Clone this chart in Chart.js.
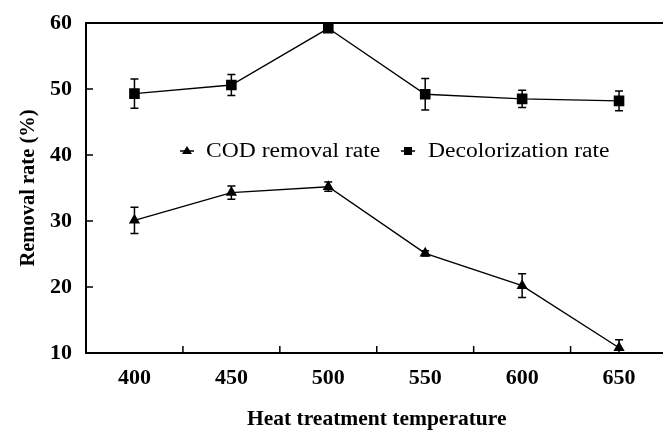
<!DOCTYPE html>
<html>
<head>
<meta charset="utf-8">
<script src="https://cdn.jsdelivr.net/npm/chart.js@4/dist/chart.umd.min.js"></script>
<style>
html,body{margin:0;padding:0;background:#fff;overflow:hidden;width:663px;height:430px;}
#wrap{width:663px;height:430px;overflow:hidden;}
canvas{display:block;}
</style>
</head>
<body>
<div id="wrap"><canvas id="c" width="675" height="430"></canvas></div>
<script>
const categories = ['400', '450', '500', '550', '600', '650'];
const codRemoval = [30.1, 34.3, 35.2, 25.1, 20.2, 10.8];
const codError = [2.0, 1.0, 0.7, 0.4, 1.8, 1.2];
const decolorization = [49.3, 50.6, 59.2, 49.2, 48.5, 48.2];
const decolorError = [2.2, 1.6, 0.5, 2.4, 1.3, 1.5];
const yTicks = [10, 20, 30, 40, 50, 60];
const legendLabels = ['COD removal rate', 'Decolorization rate'];
const xTitle = 'Heat treatment temperature';
const yTitle = 'Removal rate (%)';

const SERIF = '"Liberation Serif", "Times New Roman", serif';

const errorBars = {
  id: 'errorBars',
  afterDatasetsDraw(chart) {
    const ctx = chart.ctx, y = chart.scales.y, x = chart.scales.x, a = chart.chartArea;
    const sets = [[codRemoval, codError], [decolorization, decolorError]];
    ctx.save();
    ctx.beginPath();
    ctx.rect(a.left, a.top - 1, a.right - a.left, a.bottom - a.top + 2);
    ctx.clip();
    ctx.strokeStyle = '#000';
    ctx.lineWidth = 1.5;
    sets.forEach(([vals, errs]) => {
      vals.forEach((v, i) => {
        const px = x.getPixelForValue(i);
        const t = y.getPixelForValue(v + errs[i]);
        const b = y.getPixelForValue(v - errs[i]);
        ctx.beginPath();
        ctx.moveTo(px, t); ctx.lineTo(px, b);
        ctx.moveTo(px - 4, t); ctx.lineTo(px + 4, t);
        ctx.moveTo(px - 4, b); ctx.lineTo(px + 4, b);
        ctx.stroke();
      });
    });
    ctx.restore();
  }
};

const frame = {
  id: 'frame',
  afterDraw(chart) {
    const ctx = chart.ctx, a = chart.chartArea, x = chart.scales.x, y = chart.scales.y;
    ctx.save();
    ctx.strokeStyle = '#000';
    ctx.lineWidth = 2;
    ctx.beginPath();
    ctx.moveTo(a.right + 5, a.top); ctx.lineTo(a.left, a.top);
    ctx.lineTo(a.left, a.bottom); ctx.lineTo(a.right + 5, a.bottom);
    ctx.stroke();
    ctx.lineWidth = 1.5;
    ctx.beginPath();
    for (let i = 0; i < categories.length - 1; i++) {
      const px = (x.getPixelForValue(i) + x.getPixelForValue(i + 1)) / 2;
      ctx.moveTo(px, a.bottom); ctx.lineTo(px, a.bottom - 7);
    }
    yTicks.slice(1, -1).forEach(v => {
      const py = y.getPixelForValue(v);
      ctx.moveTo(a.left, py); ctx.lineTo(a.left + 7, py);
    });
    ctx.stroke();
    // legend
    ctx.fillStyle = '#000';
    ctx.font = '20px ' + SERIF;
    ctx.textBaseline = 'middle';
    const ly = 151;
    const items = [
      {mx: 187, tx: 206, style: 'triangle'},
      {mx: 408, tx: 428, style: 'rect'}
    ];
    items.forEach((it, k) => {
      ctx.lineWidth = 1.5;
      ctx.beginPath();
      ctx.moveTo(it.mx - 7, ly); ctx.lineTo(it.mx + 7, ly);
      ctx.stroke();
      ctx.beginPath();
      if (it.style === 'triangle') {
        ctx.moveTo(it.mx, ly - 5); ctx.lineTo(it.mx + 5, ly + 3); ctx.lineTo(it.mx - 5, ly + 3);
      } else {
        ctx.rect(it.mx - 4, ly - 4, 8, 8);
      }
      ctx.closePath();
      ctx.fill();
      ctx.save();
      ctx.translate(it.tx, ly + 1);
      ctx.scale(1.18, 1);
      ctx.fillText(legendLabels[k], 0, 0);
      ctx.restore();
    });
    ctx.restore();
  }
};

new Chart(document.getElementById('c'), {
  type: 'line',
  data: {
    labels: categories,
    datasets: [
      {label: legendLabels[0], data: codRemoval, borderColor: '#000', backgroundColor: '#000',
       borderWidth: 1.4, pointStyle: 'triangle', pointRadius: 6.5, pointBorderWidth: 0, tension: 0},
      {label: legendLabels[1], data: decolorization, borderColor: '#000', backgroundColor: '#000',
       borderWidth: 1.4, pointStyle: 'rect', pointRadius: 7.5, pointBorderWidth: 0, tension: 0}
    ]
  },
  options: {
    responsive: false,
    animation: false,
    devicePixelRatio: 1,
    layout: {padding: {top: 23, left: 0, right: 0, bottom: 0}},
    plugins: {legend: {display: false}, tooltip: {enabled: false}},
    scales: {
      x: {
        type: 'category',
        offset: true,
        grid: {display: false, offset: true},
        border: {display: false},
        ticks: {color: '#000', padding: 4, maxRotation: 0,
          font: {family: SERIF, size: 22, weight: 'bold'}},
        title: {display: true, text: xTitle, color: '#000', padding: {top: 0, bottom: -2},
          font: {family: SERIF, size: 21.5, weight: 'bold'}},
        afterFit(s) { s.height = 77; }
      },
      y: {
        min: 10, max: 60,
        afterBuildTicks(s) { s.ticks = yTicks.map(v => ({value: v})); },
        grid: {display: false},
        border: {display: false},
        ticks: {color: '#000', padding: 6,
          font: {family: SERIF, size: 22, weight: 'bold'}},
        title: {display: true, text: yTitle, color: '#000', padding: {top: 16, bottom: 0},
          font: {family: SERIF, size: 20.5, weight: 'bold'}},
        afterFit(s) { s.width = 86; }
      }
    }
  },
  plugins: [errorBars, frame]
});
</script>
</body>
</html>
